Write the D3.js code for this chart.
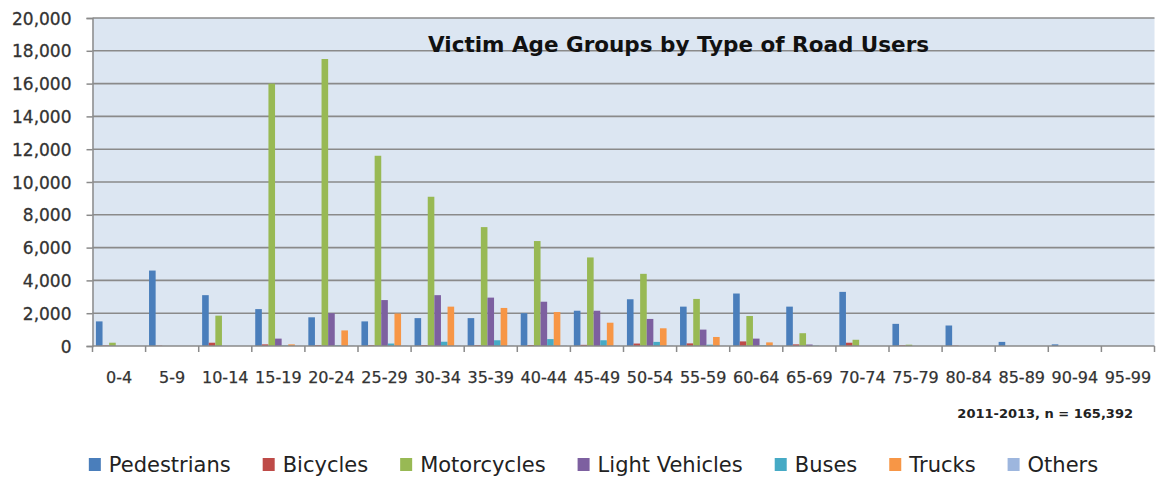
<!DOCTYPE html>
<html>
<head>
<meta charset="utf-8">
<script src="https://cdn.jsdelivr.net/npm/d3@7/dist/d3.min.js"></script>
<style>
  html, body { margin: 0; padding: 0; background: #ffffff; }
  svg { display: block; }
  text { font-family: "DejaVu Sans", sans-serif; }
</style>
</head>
<body>
<svg id="chart" width="1156" height="478"></svg>
<script>
// Age groups on the horizontal axis
const ageGroups = ["0-4","5-9","10-14","15-19","20-24","25-29","30-34","35-39","40-44","45-49",
                   "50-54","55-59","60-64","65-69","70-74","75-79","80-84","85-89","90-94","95-99"];

// Victims per road-user type, one value per age group
const pedestrians   = [1500,4600,3100,2250,1750,1500,1700,1700,2000,2150,2850,2400,3200,2400,3300,1350,1250,250,100,0];
const bicycles      = [30,20,200,100,50,50,50,50,60,70,150,160,280,100,200,40,20,0,0,0];
const motorcycles   = [200,0,1850,16000,17500,11600,9100,7250,6400,5400,4400,2870,1830,780,380,80,0,0,0,0];
const lightVehicles = [0,0,0,450,2000,2800,3100,2950,2700,2150,1650,1000,450,90,0,0,0,0,0,0];
const buses         = [0,0,0,30,40,150,260,350,420,350,250,80,40,20,0,0,0,0,0,0];
const trucks        = [0,0,0,100,950,1980,2400,2320,2070,1420,1080,550,220,0,0,0,0,0,0,0];
const others        = [0,0,0,10,20,20,20,20,20,20,20,10,10,0,0,0,0,0,0,0];

const seriesNames  = ["Pedestrians","Bicycles","Motorcycles","Light Vehicles","Buses","Trucks","Others"];
const seriesValues = [pedestrians, bicycles, motorcycles, lightVehicles, buses, trucks, others];
const seriesColors = ["#4a7ebb","#be4b48","#98b954","#7d60a0","#46aac5","#f79646","#9db6de"];

const yTicks = [0,2000,4000,6000,8000,10000,12000,14000,16000,18000,20000];

const svg = d3.select("#chart");
const plot = { left: 92.5, right: 1154.5, top: 18, bottom: 346 };

const x = d3.scaleBand().domain(ageGroups).range([plot.left, plot.right]).padding(0);
const xs = d3.scaleBand().domain(seriesNames).range([0, x.bandwidth()])
  .paddingInner(0).paddingOuter(0.52);
const y = d3.scaleLinear().domain([0, 20000]).range([plot.bottom, plot.top]);

// Plot background
svg.append("rect")
  .attr("x", plot.left).attr("y", plot.top)
  .attr("width", plot.right - plot.left).attr("height", plot.bottom - plot.top)
  .attr("fill", "#dce6f2");

// Horizontal gridlines
svg.append("g")
  .selectAll("line")
  .data(yTicks.filter(d => d > 0))
  .join("line")
  .attr("x1", plot.left).attr("x2", plot.right)
  .attr("y1", d => y(d)).attr("y2", d => y(d))
  .attr("stroke", "#8a8a8a").attr("stroke-width", 1.6);

// Bars
const groups = svg.append("g")
  .selectAll("g")
  .data(ageGroups)
  .join("g")
  .attr("transform", d => `translate(${x(d)},0)`);

groups.selectAll("rect")
  .data((d, i) => seriesNames.map((s, k) => ({ s, k, v: seriesValues[k][i] })))
  .join("rect")
  .attr("x", d => xs(d.s))
  .attr("width", xs.bandwidth())
  .attr("y", d => y(d.v))
  .attr("height", d => y(0) - y(d.v))
  .attr("fill", d => seriesColors[d.k]);

// Y axis
const yAxis = d3.axisLeft(y).tickValues(yTicks).tickSize(6).tickPadding(15)
  .tickFormat(d3.format(","));
const gy = svg.append("g").attr("transform", `translate(${plot.left},0)`).call(yAxis);
gy.select(".domain").attr("stroke", "#8a8a8a").attr("stroke-width", 1.5);
gy.selectAll(".tick line").attr("stroke", "#8a8a8a").attr("stroke-width", 1.5);
gy.selectAll(".tick text")
  .attr("font-family", "DejaVu Sans, sans-serif")
  .attr("font-size", 17).attr("fill", "#333333")
  .attr("stroke", "#333333").attr("stroke-width", 0.3)
  .attr("dy", "0.36em");

// X axis: ticks on the category boundaries
const gx = svg.append("g").attr("transform", `translate(0,${plot.bottom})`);
gx.append("line")
  .attr("x1", plot.left).attr("x2", plot.right)
  .attr("stroke", "#8a8a8a").attr("stroke-width", 1.5);
gx.selectAll("line.tk")
  .data(ageGroups.concat(["end"]))
  .join("line").attr("class", "tk")
  .attr("x1", (d, i) => i < ageGroups.length ? x(d) : plot.right)
  .attr("x2", (d, i) => i < ageGroups.length ? x(d) : plot.right)
  .attr("y1", 0).attr("y2", 6)
  .attr("stroke", "#8a8a8a").attr("stroke-width", 1.5);
gx.selectAll("text")
  .data(ageGroups)
  .join("text")
  .attr("x", d => x(d) + x.bandwidth() / 2)
  .attr("y", 37)
  .attr("text-anchor", "middle")
  .attr("font-size", 16).attr("fill", "#333333")
  .attr("stroke", "#333333").attr("stroke-width", 0.25)
  .text(d => d);

// Title
svg.append("text")
  .attr("x", 428).attr("y", 52)
  .attr("font-size", 21.5).attr("font-weight", "bold").attr("fill", "#111")
  .text("Victim Age Groups by Type of Road Users");

// Period and sample size
svg.append("text")
  .attr("x", 1133).attr("y", 418)
  .attr("text-anchor", "end")
  .attr("font-size", 13).attr("font-weight", "bold").attr("fill", "#222")
  .text("2011-2013, n = 165,392");

// Legend
const legend = svg.append("g");
const items = legend.selectAll("g")
  .data(seriesNames)
  .join("g");
items.append("rect")
  .attr("width", 12).attr("height", 13).attr("y", 458)
  .attr("fill", (d, i) => seriesColors[i]);
items.append("text")
  .attr("x", 20).attr("y", 472)
  .attr("font-size", 21).attr("fill", "#222")
  .text(d => d);
let cursor = 0;
const gap = 32;
const offsets = [];
items.each(function () {
  const w = this.querySelector("text").getComputedTextLength();
  offsets.push(cursor);
  cursor += 20 + w + gap;
});
const total = cursor - gap;
const start = 593.5 - total / 2;
items.attr("transform", (d, i) => `translate(${start + offsets[i]},0)`);
</script>
</body>
</html>
